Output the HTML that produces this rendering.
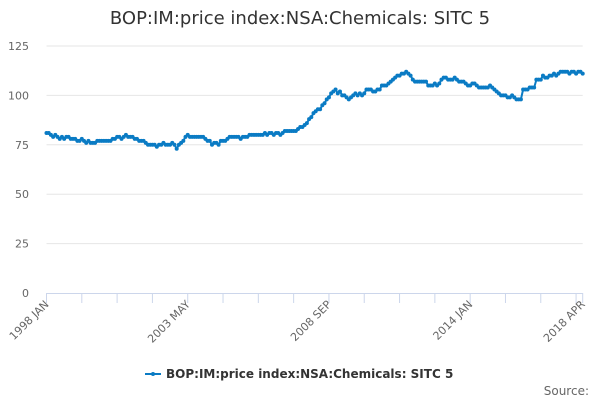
<!DOCTYPE html>
<html><head><meta charset="utf-8"><style>
body{margin:0;background:#fff;font-family:"Liberation Sans","DejaVu Sans",sans-serif;}
svg text{font-family:"DejaVu Sans","Liberation Sans",sans-serif;}
</style></head><body>
<svg id="c" width="600" height="400">
<text x="300" y="24" text-anchor="middle" font-size="18" fill="#333">BOP:IM:price index:NSA:Chemicals: SITC 5</text>
<g id="grid"></g><g id="xa"></g><g id="ser"></g>
<g>
<line x1="145" y1="374" x2="161" y2="374" stroke="#0a7bc4" stroke-width="2"/>
<circle cx="153" cy="374" r="2" fill="#0a7bc4"/>
<text x="166" y="378" font-size="12" font-weight="bold" fill="#333">BOP:IM:price index:NSA:Chemicals: SITC 5</text>
</g>
<text x="589" y="395" text-anchor="end" font-size="12" fill="#666">Source:</text>
</svg>
<script>
const yTicks=[0,25,50,75,100,125];
const xLabels=["1998 JAN","2003 MAY","2008 SEP","2014 JAN","2018 APR"];
const xLabelMonths=[0,64,128,192,243];
const values=[
81,81,80,79,80,79,78,79,78,79,79,78,
78,78,77,77,78,77,76,77,76,76,76,77,
77,77,77,77,77,77,78,78,79,79,78,79,
80,79,79,79,78,78,77,77,77,76,75,75,
75,75,74,75,75,76,75,75,75,76,75,73,
75,76,77,79,80,79,79,79,79,79,79,79,
78,77,77,75,76,76,75,77,77,77,78,79,
79,79,79,79,78,79,79,79,80,80,80,80,
80,80,80,81,80,81,81,80,81,81,80,81,
82,82,82,82,82,82,83,84,84,85,86,88,
89,91,92,93,93,95,96,98,99,101,102,103,
101,102,100,100,99,98,99,100,101,100,101,100,
101,103,103,103,102,102,103,103,105,105,105,106,
107,108,109,110,110,111,111,112,111,110,108,107,
107,107,107,107,107,105,105,105,106,105,106,108,
109,109,108,108,108,109,108,107,107,107,106,105,
105,106,106,105,104,104,104,104,104,105,104,103,
102,101,100,100,100,99,99,100,99,98,98,98,
103,103,103,104,104,104,108,108,108,110,109,109,
110,110,111,110,111,112,112,112,112,111,112,112,
111,112,112,111];
const NS="http://www.w3.org/2000/svg";
const X0=46.5,X1=582.7,Y0=293,Y1=46;
const n=values.length;
function xs(i){return X0+(X1-X0)*i/(n-1);}
function ys(v){return Y0-(Y0-Y1)*v/125;}
function mk(t,a,p){const e=document.createElementNS(NS,t);for(const k in a)e.setAttribute(k,a[k]);p.appendChild(e);return e;}
const grid=document.getElementById('grid');
yTicks.forEach(v=>{
 if(v>0){const l=mk('line',{x1:X0,x2:X1,y1:ys(v),y2:ys(v),stroke:'#e6e6e6'},grid);
 
 }
 const t=mk('text',{x:29,y:ys(v)+4,'text-anchor':'end','font-size':11,fill:'#666'},grid);
 t.textContent=v;
 
 
});
const xa=document.getElementById('xa');
const axl=mk('line',{x1:X0,x2:X1,y1:Y0+0.5,y2:Y0+0.5,stroke:'#ccd6eb'},xa);


const tickM=[];for(let m=0;m<n-1;m+=16)tickM.push(m);tickM.push(n-1);
tickM.forEach(m=>{mk('line',{x1:xs(m),x2:xs(m),y1:Y0,y2:Y0+10,stroke:'#ccd6eb'},xa);});
xLabels.forEach((s,i)=>{
 const x=xs(xLabelMonths[i]);
 const t=mk('text',{x:x+3,y:Y0+12,'text-anchor':'end','font-size':11,fill:'#666',transform:`rotate(-45 ${x+3} ${Y0+12})`},xa);
 t.textContent=s;
 
 
});
const ser=document.getElementById('ser');
const pts=values.map((v,i)=>xs(i).toFixed(1)+','+ys(v).toFixed(1)).join(' ');
const pl=mk('polyline',{points:pts,fill:'none',stroke:'#0a7bc4','stroke-width':2,'stroke-linejoin':'round'},ser);


values.forEach((v,i)=>{
 const c=mk('circle',{cx:xs(i),cy:ys(v),r:2,fill:'#0a7bc4'},ser);
 
 
});
</script>
</body></html>
